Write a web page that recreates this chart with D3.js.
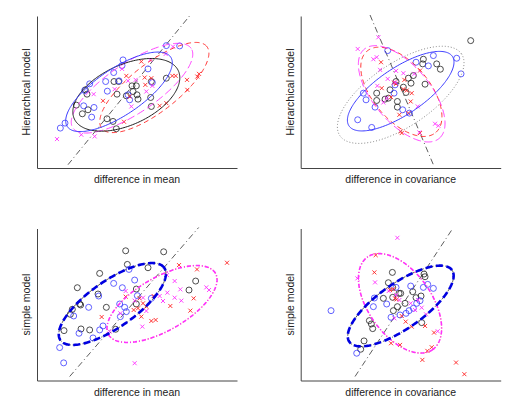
<!DOCTYPE html>
<html><head><meta charset="utf-8">
<script src="https://cdn.jsdelivr.net/npm/d3@7"></script>
<style>body{margin:0;background:#fff}svg{display:block}text{font-family:"Liberation Sans",Arial,sans-serif;font-size:10.5px;fill:#222}</style>
</head><body>
<script>
// ---- data (arbitrary units, x in [0,600], y in [0,457]) ----
const xLabels = ["difference in mean","difference in covariance","difference in mean","difference in covariance"];
const yLabels = ["Hierarchical model","Hierarchical model","simple model","simple model"];

const p1Blue = [[70,120],[84,135],[158,253],[140,187],[171,182],[164,153],[206,260],[211,231],[230,287],[255,308],[258,325],[246,262],[273,220],[278,205],[333,298],[346,257],[388,368],[428,367],[143,233]];
const p1Black = [[145,235],[150,222],[118,189],[153,175],[136,163],[210,148],[228,140],[238,118],[231,260],[245,260],[240,222],[268,217],[285,247],[288,230],[298,247],[300,220],[303,207],[343,260],[341,212],[343,185],[388,270]];
const p1Red = [[198,202],[261,139],[268,277],[313,320],[323,272],[325,250],[343,270],[368,187],[388,195],[406,277],[416,277],[450,265],[451,235],[481,275],[486,283],[278,215]];
const p1Magenta = [[60,87],[133,100],[173,95],[170,222],[255,298],[233,237],[273,262],[296,265],[328,230],[346,247],[386,343],[408,365],[283,185],[340,325]];

const p2Blue = [[261,353],[398,338],[346,318],[383,307],[468,330],[481,283],[188,225],[196,205],[223,183],[171,145],[213,122],[306,175],[326,165],[283,250],[280,225]];
const p2Black = [[510,383],[368,327],[366,313],[408,313],[419,297],[323,270],[331,255],[338,278],[286,260],[268,235],[228,225],[228,203],[253,207],[290,200],[290,183],[308,243],[316,227],[373,252],[263,210]];
const p2Red = [[241,318],[280,257],[286,253],[308,237],[318,233],[333,225],[330,200],[296,160],[300,110],[303,105],[358,105],[243,240],[271,213],[358,293],[323,165],[311,265]];
const p2Magenta = [[171,358],[218,327],[228,333],[233,393],[238,295],[261,268],[286,292],[230,247],[258,210],[248,197],[341,283],[351,185],[403,133],[413,127],[356,107],[308,285],[283,257]];

const p3Blue = [[230,292],[256,279],[293,302],[185,254],[155,220],[110,194],[248,230],[263,220],[268,207],[250,192],[198,164],[126,142],[168,128],[188,152],[68,99],[80,53],[343,247],[301,255],[276,334]];
const p3Black = [[266,390],[380,387],[271,349],[333,339],[188,322],[121,279],[476,299],[456,272],[298,275],[183,260],[128,230],[131,227],[106,214],[100,199],[208,220],[81,150],[132,155],[158,152],[236,154],[298,230]];
const p3Red = [[426,347],[480,334],[570,354],[194,191],[290,212],[303,217],[308,247],[313,192],[328,222],[350,254],[400,224],[470,247],[460,210],[356,182],[266,252],[343,179],[318,232]];
const p3Magenta = [[266,269],[293,240],[318,249],[328,209],[368,254],[391,264],[390,317],[413,299],[430,274],[413,249],[433,240],[508,280],[516,272],[218,147],[293,52],[316,162],[250,202],[378,239]];

const p4Blue = [[91,210],[168,82],[221,248],[218,222],[258,230],[271,190],[330,284],[368,280],[381,289],[398,277],[325,210],[338,217],[348,232],[358,240],[298,197],[316,202],[286,280]];
const p4Black = [[275,325],[370,320],[373,312],[263,294],[276,280],[295,262],[300,262],[336,267],[248,247],[276,250],[313,232],[346,249],[361,254],[206,180],[212,170],[216,156],[190,119],[180,94],[278,210],[290,222],[363,174]];
const p4Red = [[225,377],[221,325],[268,272],[278,275],[288,244],[315,177],[333,162],[303,194],[373,164],[271,112],[298,107],[380,89],[393,100],[400,144],[365,62],[466,54],[491,19],[283,247]];
const p4Magenta = [[290,429],[170,307],[223,295],[264,269],[286,257],[296,242],[330,232],[363,219],[376,199],[411,148],[281,187],[352,242],[343,212]];

// diagonal reference lines: [x1,y1,x2,y2]
const diagonals = [[93,10,460,460],[208,460,398,10],[98,12,485,460],[163,12,456,457]];

// ellipses: [cx, cy, a, b, angleDeg, style]
const p1Ellipses = [[352,242,200,72,38,"red"],[285,240,214,75,34,"magenta"],[268,220,172,90,25,"black"],[246,229,187,70,34,"blue"]];
const p2Ellipses = [[300,220,220,95,34,"gray"],[302,229,160,85,-50,"red"],[303,223,175,85,-50,"magenta"],[300,231,187,70,34,"blue"]];
const p3Ellipses = [[375,230,185,80,30,"reddot"],[375,230,185,80,30,"magentaDD"],[226,230,190,70,35,"blackDD"],[226,230,190,70,35,"blueThick"]];
const p4Ellipses = [[298,232,170,95,-55,"reddot"],[298,232,170,95,-55,"magentaDD"],[300,224,188,68,35,"blackDD"],[300,224,188,68,35,"blueThick"]];

const panels = [
  {left:37, top:16, blue:p1Blue, black:p1Black, red:p1Red, magenta:p1Magenta, ell:p1Ellipses},
  {left:300.7, top:16, blue:p2Blue, black:p2Black, red:p2Red, magenta:p2Magenta, ell:p2Ellipses},
  {left:37, top:228.5, blue:p3Blue, black:p3Black, red:p3Red, magenta:p3Magenta, ell:p3Ellipses},
  {left:300.7, top:228.5, blue:p4Blue, black:p4Black, red:p4Red, magenta:p4Magenta, ell:p4Ellipses}
];

const W = 200, H = 152;
const COL = {blue:"#3a3aff", black:"#222", red:"#ff2020", magenta:"#ff30ff"};
const styles = {
  blue:{stroke:COL.blue, w:1, dash:null},
  black:{stroke:"#222", w:1, dash:null},
  red:{stroke:COL.red, w:0.9, dash:"5,3.5"},
  magenta:{stroke:COL.magenta, w:0.9, dash:"8,3.5"},
  gray:{stroke:"#888", w:1, dash:"1,2"},
  reddot:{stroke:COL.red, w:0.8, dash:"1,2"},
  magentaDD:{stroke:COL.magenta, w:1.6, dash:"4,2,1,2"},
  blackDD:{stroke:"#222", w:0.8, dash:"5,2,1,2"},
  blueThick:{stroke:"#0000e0", w:2.6, dash:"7,3.5"}
};

const svg = d3.select("body").append("svg").attr("width",519).attr("height",412);

panels.forEach((p,i)=>{
  const x = d3.scaleLinear().domain([0,600]).range([p.left, p.left+W]);
  const y = d3.scaleLinear().domain([0,457]).range([p.top+H, p.top]);
  const g = svg.append("g");

  // axes (lines only, no ticks)
  const xa = g.append("g").attr("transform",`translate(0,${p.top+H})`).call(d3.axisBottom(x).tickValues([]).tickSizeOuter(0));
  const ya = g.append("g").attr("transform",`translate(${p.left},0)`).call(d3.axisLeft(y).tickValues([]).tickSizeOuter(0));
  g.selectAll(".domain").attr("stroke","#444").attr("stroke-width",1);

  // labels
  g.append("text").attr("x",p.left+W/2).attr("y",p.top+H+15).attr("text-anchor","middle").text(xLabels[i]);
  g.append("text").attr("transform",`translate(${p.left-7},${p.top+H/2}) rotate(-90)`).attr("text-anchor","middle").text(yLabels[i]);

  // diagonal
  const d = diagonals[i];
  g.append("line").attr("x1",x(d[0])).attr("y1",y(d[1])).attr("x2",x(d[2])).attr("y2",y(d[3]))
    .attr("stroke","#333").attr("stroke-width",0.8).attr("stroke-dasharray","6,3,1,3");

  // points
  const circ = (data,col)=> g.append("g").selectAll("circle").data(data).join("circle")
      .attr("cx",v=>x(v[0])).attr("cy",v=>y(v[1])).attr("r",3).attr("fill","none").attr("stroke",col).attr("stroke-width",0.8);
  const cross = (data,col)=> g.append("g").selectAll("path").data(data).join("path")
      .attr("transform",v=>`translate(${x(v[0])},${y(v[1])})`).attr("d","M-2,-2L2,2M-2,2L2,-2")
      .attr("fill","none").attr("stroke",col).attr("stroke-width",0.9);
  circ(p.black, COL.black);
  circ(p.blue, COL.blue);
  cross(p.red, COL.red);
  cross(p.magenta, COL.magenta);

  // ellipses
  const line = d3.line().x(v=>x(v[0])).y(v=>y(v[1]));
  p.ell.forEach(e=>{
    const [cx,cy,a,b,ang,st] = e;
    const th = ang*Math.PI/180;
    const pts = d3.range(0,201).map(k=>{
      const t = k/200*2*Math.PI;
      return [cx + a*Math.cos(t)*Math.cos(th) - b*Math.sin(t)*Math.sin(th),
              cy + a*Math.cos(t)*Math.sin(th) + b*Math.sin(t)*Math.cos(th)];
    });
    const s = styles[st];
    g.append("path").attr("d",line(pts)).attr("fill","none").attr("stroke",s.stroke)
      .attr("stroke-width",s.w).attr("stroke-dasharray",s.dash);
  });
});
</script>
</body></html>
